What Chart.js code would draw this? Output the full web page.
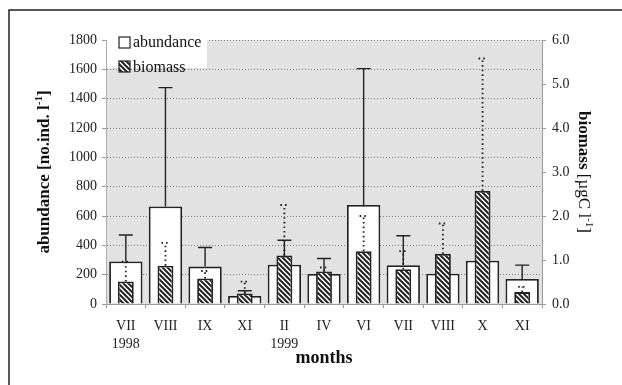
<!DOCTYPE html>
<html>
<head>
<meta charset="utf-8">
<style>
  html, body { margin: 0; padding: 0; background: #fff; }
  #wrap { width: 622px; height: 385px; }
</style>
</head>
<body>
<div id="wrap"><canvas id="zooChart"></canvas></div>
<script src="https://cdn.jsdelivr.net/npm/chart.js"></script>
<script>
const months = ["VII", "VIII", "IX", "XI", "II", "IV", "VI", "VII", "VIII", "X", "XI"];
const years = ["1998", "", "", "", "1999", "", "", "", "", "", ""];
const abundance = [290, 665, 255, 55, 268, 205, 675, 264, 207, 295, 170];
const abundanceUpper = [470, 1475, 385, 90, 435, 310, 1605, 465, null, null, 265];
const biomass = [0.51, 0.87, 0.58, 0.24, 1.10, 0.74, 1.20, 0.79, 1.14, 2.57, 0.27];
const biomassUpper = [0.96, 1.39, 0.75, 0.51, 2.25, 0.83, 2.00, 1.20, 1.83, 5.58, 0.39];

const serif = "'Liberation Serif', 'Times New Roman', serif";

// diagonal hatch for biomass bars
function makeHatch() {
  const c = document.createElement("canvas");
  c.width = 5;
  c.height = 5;
  const g = c.getContext("2d");
  g.fillStyle = "#fff";
  g.fillRect(0, 0, 5, 5);
  g.strokeStyle = "#222";
  g.lineWidth = 2;
  g.beginPath();
  g.moveTo(-1, -1); g.lineTo(6, 6);
  g.moveTo(-1, 4); g.lineTo(1, 6);
  g.moveTo(4, -1); g.lineTo(6, 1);
  g.stroke();
  return g.createPattern(c, "repeat");
}
const hatch = makeHatch();

const labels = months.map((m, i) => years[i] ? [m, years[i]] : m);

// page frame + grey plot background
const backdrop = {
  id: "backdrop",
  beforeDraw(chart) {
    const { ctx, chartArea: a } = chart;
    ctx.save();
    ctx.fillStyle = "#fff";
    ctx.fillRect(0, 0, chart.width, chart.height);
    ctx.strokeStyle = "#222";
    ctx.lineWidth = 1.5;
    ctx.beginPath();
    ctx.moveTo(9, chart.height);
    ctx.lineTo(9, 10);
    ctx.lineTo(chart.width, 10);
    ctx.stroke();
    ctx.fillStyle = "#e2e2e2";
    ctx.fillRect(a.left, a.top, a.right - a.left, a.bottom - a.top);
    ctx.restore();
  }
};

// error bars: solid for abundance, dotted for biomass
const errorBars = {
  id: "errorBars",
  afterDatasetDraw(chart, args) {
    const ds = chart.data.datasets[args.index];
    const upper = ds.upper;
    const scale = chart.scales[ds.yAxisID];
    const ctx = chart.ctx;
    ctx.save();
    ctx.strokeStyle = "#222";
    ctx.lineWidth = ds.dotted ? 1.8 : 1.4;
    ctx.setLineDash(ds.dotted ? [1.6, 3] : []);
    args.meta.data.forEach((bar, i) => {
      if (upper[i] == null) return;
      const yTop = scale.getPixelForValue(upper[i]);
      const cap = ds.dotted ? 4 : 7;
      ctx.beginPath();
      ctx.moveTo(bar.x, bar.y);
      ctx.lineTo(bar.x, yTop);
      ctx.moveTo(bar.x - cap, yTop);
      ctx.lineTo(bar.x + cap, yTop);
      ctx.stroke();
    });
    ctx.restore();
  }
};

function drawRich(ctx, parts, size) {
  let total = 0;
  parts.forEach(p => {
    ctx.font = (p.bold ? "bold " : "") + (p.sup ? size * 0.65 : size) + "px " + serif;
    p.w = ctx.measureText(p.t).width;
    total += p.w;
  });
  let x = -total / 2;
  parts.forEach(p => {
    ctx.font = (p.bold ? "bold " : "") + (p.sup ? size * 0.65 : size) + "px " + serif;
    ctx.fillText(p.t, x, p.sup ? -size * 0.35 : 0);
    x += p.w;
  });
}

// legend box + axis titles with superscripts
const overlay = {
  id: "overlay",
  afterDraw(chart) {
    const { ctx, chartArea: a } = chart;
    ctx.save();
    ctx.fillStyle = "#fff";
    ctx.fillRect(a.left + 1, a.top - 1, 100, 29);

    ctx.lineWidth = 1.2;
    ctx.strokeStyle = "#222";
    ctx.fillRect(119, 37, 11, 11);
    ctx.strokeRect(119, 37, 11, 11);
    ctx.fillStyle = hatch;
    ctx.fillRect(119, 61, 11, 11);
    ctx.strokeRect(119, 61, 11, 11);

    ctx.fillStyle = "#111";
    ctx.font = "16px " + serif;
    ctx.textBaseline = "alphabetic";
    ctx.fillText(chart.data.datasets[1].label, 133, 47);
    ctx.fillText(chart.data.datasets[0].label, 133, 72);

    const midY = (a.top + a.bottom) / 2;
    ctx.textBaseline = "middle";
    ctx.save();
    ctx.translate(45, midY);
    ctx.rotate(-Math.PI / 2);
    drawRich(ctx, [
      { t: "abundance [no.ind. l", bold: true },
      { t: "-1", bold: true, sup: true },
      { t: "]", bold: true }
    ], 17);
    ctx.restore();

    ctx.save();
    ctx.translate(583, midY);
    ctx.rotate(Math.PI / 2);
    drawRich(ctx, [
      { t: "biomass ", bold: true },
      { t: "[µgC l" },
      { t: "-1", sup: true },
      { t: "]" }
    ], 17);
    ctx.restore();
    ctx.restore();
  }
};

new Chart(document.getElementById("zooChart"), {
  type: "bar",
  data: {
    labels: labels,
    datasets: [
      {
        label: "biomass",
        data: biomass,
        upper: biomassUpper,
        dotted: true,
        yAxisID: "y1",
        backgroundColor: hatch,
        borderColor: "#222",
        borderWidth: 1.8,
        barPercentage: 0.4,
        categoryPercentage: 1,
        grouped: false,
        order: 0
      },
      {
        label: "abundance",
        data: abundance,
        upper: abundanceUpper,
        dotted: false,
        yAxisID: "y",
        backgroundColor: "#fff",
        borderColor: "#222",
        borderWidth: 1.8,
        barPercentage: 0.84,
        categoryPercentage: 1,
        grouped: false,
        order: 1
      }
    ]
  },
  options: {
    responsive: true,
    maintainAspectRatio: false,
    animation: false,
    layout: { padding: { top: 40 } },
    plugins: {
      legend: { display: false },
      tooltip: { enabled: false }
    },
    scales: {
      x: {
        afterFit(scale) { scale.height = 81; },
        grid: { drawOnChartArea: false, tickLength: 4, color: "#999" },
        border: { color: "#999" },
        ticks: {
          color: "#222",
          padding: 9,
          maxRotation: 0,
          autoSkip: false,
          font: { family: serif, size: 14, lineHeight: 1.3 }
        },
        title: {
          display: true,
          text: "months",
          color: "#111",
          padding: { top: 0, bottom: 16 },
          font: { family: serif, size: 18, weight: "bold" }
        }
      },
      y: {
        position: "left",
        min: 0,
        max: 1800,
        afterFit(scale) { scale.width = 106; },
        grid: { color: "#808080", tickLength: 4, tickColor: "#999" },
        border: { color: "#aaa", dash: [1, 2] },
        ticks: {
          stepSize: 200,
          color: "#222",
          padding: 5,
          font: { family: serif, size: 14 },
          callback: v => String(v)
        }
      },
      y1: {
        position: "right",
        min: 0,
        max: 6,
        afterFit(scale) { scale.width = 80; },
        grid: { drawOnChartArea: false, tickLength: 4, color: "#999" },
        border: { color: "#999" },
        ticks: {
          stepSize: 1,
          color: "#222",
          padding: 6,
          font: { family: serif, size: 14 },
          callback: v => v.toFixed(1)
        }
      }
    }
  },
  plugins: [backdrop, errorBars, overlay]
});
</script>
</body>
</html>
